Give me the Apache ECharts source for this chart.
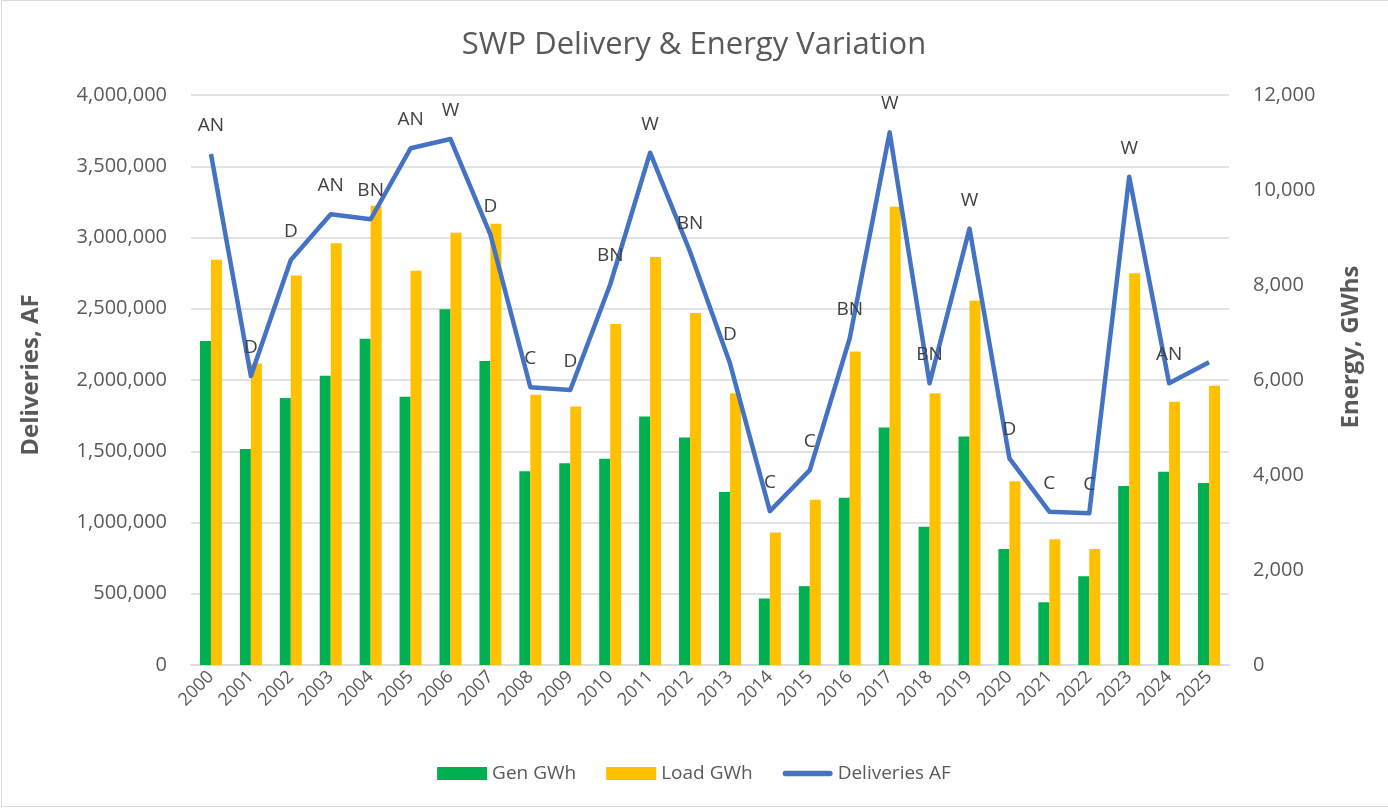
<!DOCTYPE html>
<html>
<head>
<meta charset="utf-8">
<script src="https://cdn.jsdelivr.net/npm/echarts@6/dist/echarts.min.js"></script>
<style>
  html, body { margin: 0; padding: 0; overflow: hidden; background: #fff; }
  #swpChart { width: 1388px; height: 812px; }
  #frame {
    position: absolute; left: 1px; top: 0px; width: 1400px; height: 805px;
    border: 1px solid #d9d9d9; pointer-events: none;
  }
</style>
</head>
<body>
<div id="swpChart"></div>
<div id="frame"></div>
<script>
  // water years
  const years = ['2000', '2001', '2002', '2003', '2004', '2005', '2006', '2007', '2008', '2009',
    '2010', '2011', '2012', '2013', '2014', '2015', '2016', '2017', '2018', '2019',
    '2020', '2021', '2022', '2023', '2024', '2025']
  // generation, GWh
  const genGWh = [6820, 4550, 5620, 6090, 6870, 5650, 7490, 6400, 4080, 4250,
    4340, 5230, 4790, 3640, 1400, 1660, 3520, 5000, 2910, 4810,
    2440, 1320, 1870, 3770, 4070, 3830]
  // pumping load, GWh
  const loadGWh = [8530, 6350, 8200, 8880, 9670, 8300, 9100, 9290, 5690, 5440,
    7180, 8590, 7410, 5720, 2790, 3480, 6600, 9650, 5720, 7670,
    3870, 2650, 2440, 8250, 5540, 5880]
  // SWP deliveries, acre-feet
  const deliveriesAF = [3586000, 2028000, 2842000, 3163000, 3128000, 3626000, 3691000, 3020000, 1949000, 1930000,
    2670000, 3595000, 2900000, 2117000, 1080000, 1368000, 2293000, 3738000, 1977000, 3062000,
    1450000, 1076000, 1065000, 3427000, 1977000, 2124000]
  // water year type shown above each point
  const yearTypes = ['AN', 'D', 'D', 'AN', 'BN', 'AN', 'W', 'D', 'C', 'D',
    'BN', 'W', 'BN', 'D', 'C', 'C', 'BN', 'W', 'BN', 'W',
    'D', 'C', 'C', 'W', 'AN', '']

  const font = '"Open Sans", "Noto Sans", sans-serif'
  const grey = '#595959'
  const fmt = function (v) { return v.toLocaleString('en-US') }

  let myChart = echarts.init(document.getElementById('swpChart'))
  const option = {
    animation: false,
    textStyle: { fontFamily: font, color: grey },
    title: {
      text: 'SWP Delivery & Energy Variation',
      left: 'center',
      top: 25,
      textStyle: { fontFamily: font, fontSize: 31, fontWeight: 'normal', color: grey }
    },
    grid: { left: 191, right: 159, top: 95, bottom: 147 },
    legend: {
      top: 759,
      left: 'center',
      itemWidth: 50,
      itemHeight: 13,
      itemGap: 30,
      textStyle: { fontFamily: font, fontSize: 19, color: grey },
      data: [
        { name: 'Gen GWh', icon: 'rect' },
        { name: 'Load GWh', icon: 'rect' },
        {
          name: 'Deliveries AF',
          icon: 'path://M3,0 L53,0 A3,3 0 0 1 53,6 L3,6 A3,3 0 0 1 3,0 Z'
        }
      ]
    },
    xAxis: {
      type: 'category',
      data: years,
      axisLine: { lineStyle: { color: '#d9d9d9', width: 1.5 } },
      axisTick: { show: false },
      axisLabel: { rotate: 45, fontSize: 18, color: grey, fontFamily: font, margin: 9 }
    },
    yAxis: [
      {
        type: 'value',
        min: 0,
        max: 4000000,
        interval: 500000,
        name: 'Deliveries, AF',
        nameLocation: 'middle',
        nameGap: 148,
        nameTextStyle: { fontFamily: font, fontSize: 24, fontWeight: 'bold', color: grey, padding: [0, 0, 0, 10] },
        axisLine: { show: false },
        axisTick: { show: false },
        axisLabel: { fontSize: 20, color: grey, fontFamily: font, margin: 24, formatter: fmt },
        splitLine: { lineStyle: { color: '#d9d9d9', width: 1.5 } }
      },
      {
        type: 'value',
        min: 0,
        max: 12000,
        interval: 2000,
        name: 'Energy, GWhs',
        nameLocation: 'middle',
        nameGap: 110,
        nameTextStyle: { fontFamily: font, fontSize: 24, fontWeight: 'bold', color: grey, padding: [0, 0, 0, 66] },
        axisLine: { show: false },
        axisTick: { show: false },
        axisLabel: { fontSize: 20, color: grey, fontFamily: font, margin: 24, formatter: fmt },
        splitLine: { show: false }
      }
    ],
    series: [
      {
        name: 'Gen GWh',
        type: 'bar',
        yAxisIndex: 1,
        barWidth: 11,
        barGap: '0%',
        itemStyle: { color: '#00B050' },
        data: genGWh
      },
      {
        name: 'Load GWh',
        type: 'bar',
        yAxisIndex: 1,
        barWidth: 11,
        barGap: '0%',
        itemStyle: { color: '#FFC000' },
        data: loadGWh
      },
      {
        name: 'Deliveries AF',
        type: 'line',
        yAxisIndex: 0,
        symbol: 'circle',
        symbolSize: 0,
        showSymbol: true,
        z: 5,
        itemStyle: { color: '#4472C4' },
        lineStyle: { color: '#4472C4', width: 4.5, join: 'round' },
        label: {
          show: true,
          position: 'top',
          distance: 19,
          fontSize: 19,
          fontFamily: font,
          color: '#404040',
          formatter: function (p) { return yearTypes[p.dataIndex] }
        },
        data: deliveriesAF
      }
    ]
  }
  myChart.setOption(option)
</script>
</body>
</html>
